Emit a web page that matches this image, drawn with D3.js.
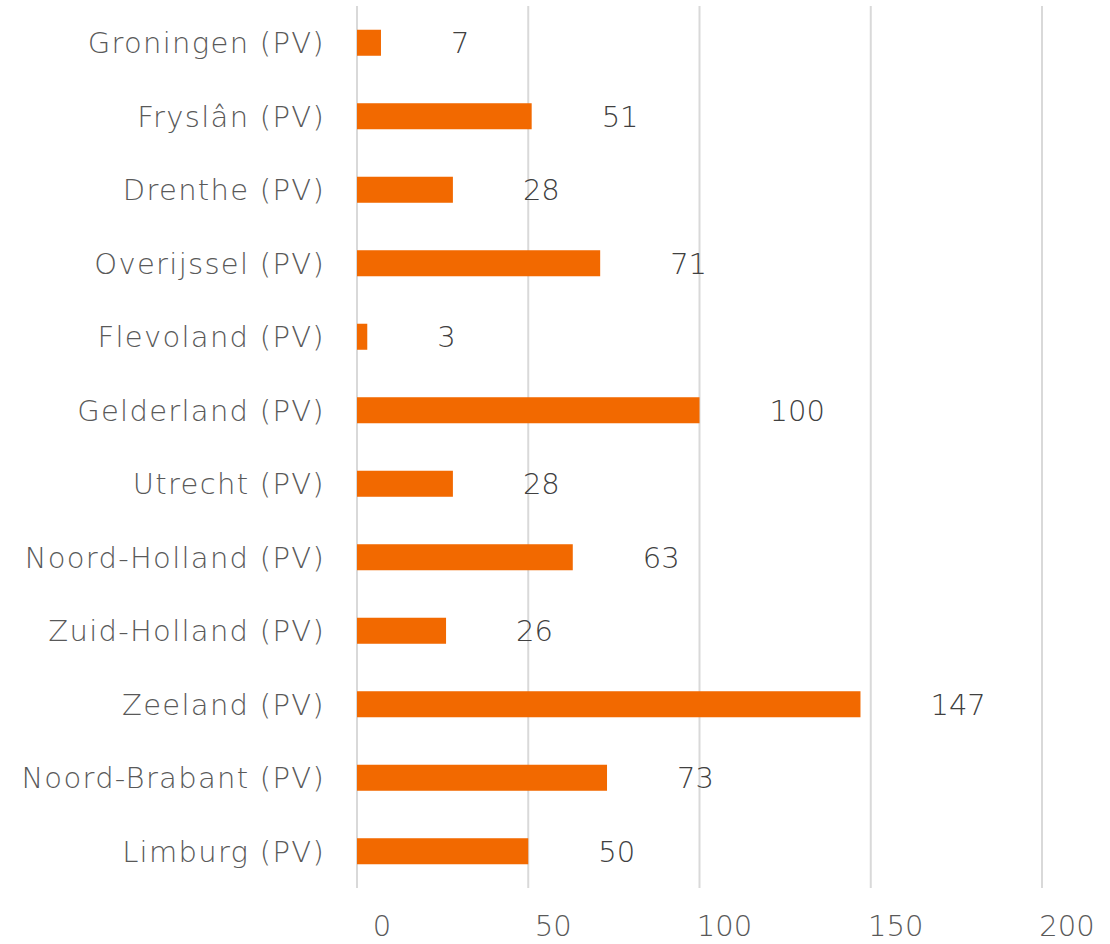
<!DOCTYPE html>
<html>
<head>
<meta charset="utf-8">
<script src="https://cdn.jsdelivr.net/npm/d3@7"></script>
<style>
  body { margin: 0; background: #fff; }
  text { font-family: "DejaVu Sans", sans-serif; font-weight: 200; }
</style>
</head>
<body>
<svg id="chart" width="1110" height="944"></svg>
<script>
var provinces = ['Groningen (PV)', 'Fryslân (PV)', 'Drenthe (PV)', 'Overijssel (PV)',
  'Flevoland (PV)', 'Gelderland (PV)', 'Utrecht (PV)', 'Noord-Holland (PV)',
  'Zuid-Holland (PV)', 'Zeeland (PV)', 'Noord-Brabant (PV)', 'Limburg (PV)'];
var values = [7, 51, 28, 71, 3, 100, 28, 63, 26, 147, 73, 50];
var ticks = [0, 50, 100, 150, 200];

var svg = d3.select('#chart');

var x = d3.scaleLinear()
  .domain([0, 200])
  .range([357, 1042]);

var y = d3.scaleBand()
  .domain(provinces)
  .range([6, 888])
  .paddingInner(0.646)
  .paddingOuter(0.323);

// gridlines
svg.append('g')
  .selectAll('line')
  .data(ticks)
  .join('line')
    .attr('x1', d => x(d))
    .attr('x2', d => x(d))
    .attr('y1', 6)
    .attr('y2', 888)
    .attr('stroke', '#d9d9d9')
    .attr('stroke-width', 2);

// bars
svg.append('g')
  .selectAll('rect')
  .data(values)
  .join('rect')
    .attr('x', x(0))
    .attr('y', (d, i) => y(provinces[i]))
    .attr('width', d => x(d) - x(0))
    .attr('height', y.bandwidth())
    .attr('fill', '#f26900');

// value labels
svg.append('g')
  .selectAll('text')
  .data(values)
  .join('text')
    .attr('x', d => x(d) + 70)
    .attr('y', (d, i) => y(provinces[i]) + y.bandwidth() / 2)
    .attr('dy', '0.36em')
    .attr('font-size', 29)
    .attr('fill', '#404040')
    .text(d => d);

// category labels
svg.append('g')
  .selectAll('text')
  .data(provinces)
  .join('text')
    .attr('x', 325)
    .attr('y', d => y(d) + y.bandwidth() / 2)
    .attr('dy', '0.36em')
    .attr('text-anchor', 'end')
    .attr('font-size', 29)
    .attr('letter-spacing', 1.3)
    .attr('fill', '#595959')
    .text(d => d);

// x tick labels
svg.append('g')
  .selectAll('text')
  .data(ticks)
  .join('text')
    .attr('x', d => x(d) + 25)
    .attr('y', 926)
    .attr('dy', '0.36em')
    .attr('text-anchor', 'middle')
    .attr('font-size', 29)
    .attr('fill', '#595959')
    .text(d => d);
</script>
</body>
</html>
